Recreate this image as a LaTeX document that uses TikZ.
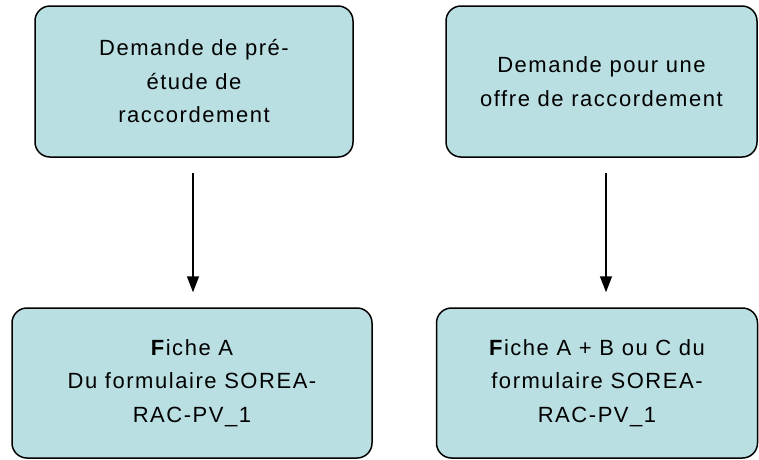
\documentclass[tikz,border=0pt]{standalone}
\usepackage{fontspec}
\setmainfont{Liberation Sans}[LetterSpace=7]
\usetikzlibrary{arrows.meta}
\definecolor{boxfill}{HTML}{BADFE3}
\tikzset{
  box/.style={draw=black, line width=1.5pt, fill=boxfill, rounded corners=15pt,
    align=center, inner sep=0pt, font=\fontsize{22}{33.5}\selectfont},
  arr/.style={line width=1.5pt, -{Triangle[length=16pt,width=12pt]}}
}
\begin{document}
\begin{tikzpicture}[x=1pt,y=-1pt]
\useasboundingbox (0,0) rectangle (759,459);
\node[box, minimum width=318pt, minimum height=151pt] (b1) at (194,81.5)
  {Demande de pré-\\étude de\\raccordement};
\node[box, minimum width=311pt, minimum height=151pt] (b2) at (601.5,81.5)
  {Demande pour une\\offre de raccordement};
\node[box, minimum width=360pt, minimum height=150pt] (b3) at (192,383)
  {\textbf{F}iche A\\Du formulaire SOREA-\\RAC-PV\_1};
\node[box, minimum width=321pt, minimum height=150pt] (b4) at (597,383)
  {\textbf{F}iche A + B ou C du\\formulaire SOREA-\\RAC-PV\_1};
\coordinate (ax1) at (193,0);
\coordinate (ax2) at (606,0);
\draw[arr, shorten <=15pt, shorten >=15pt] (b1.south -| ax1) -- (b3.north -| ax1);
\draw[arr, shorten <=15pt, shorten >=15pt] (b2.south -| ax2) -- (b4.north -| ax2);
\end{tikzpicture}
\end{document}
